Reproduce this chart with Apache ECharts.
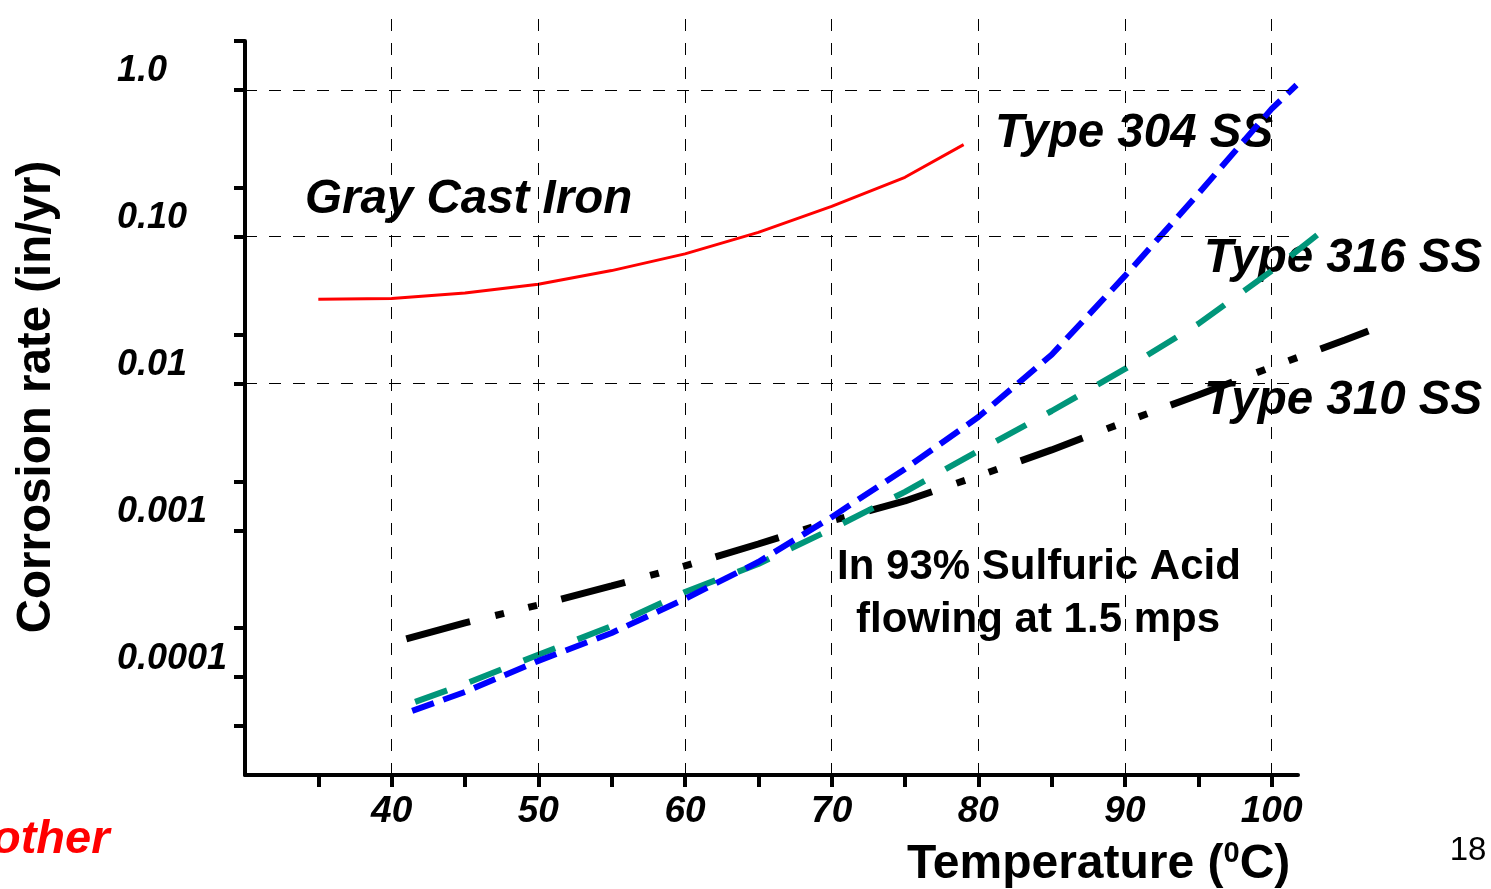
<!DOCTYPE html>
<html>
<head>
<meta charset="utf-8">
<script src="https://cdn.jsdelivr.net/npm/echarts@6/dist/echarts.min.js"></script>
<style>
  html, body { margin: 0; padding: 0; background: #fff; }
  #chart { width: 1491px; height: 889px; }
</style>
</head>
<body>
<div id="chart"></div>
<script>
// temperature (deg C) vs corrosion rate (in/yr)
const castIronTemp = [35, 40, 45, 50, 55, 60, 65, 70, 75, 79];
const castIronRate = [0.0375, 0.0379, 0.0414, 0.0475, 0.0588, 0.0764, 0.107, 0.161, 0.254, 0.424];

const ss304Temp = [41.4, 45, 50, 55, 60, 65, 70, 75, 80, 85, 90, 95, 100, 101.7];
const ss304Rate = [5.89e-5, 7.93e-5, 1.29e-4, 2.0e-4, 3.41e-4, 6.09e-4, 1.23e-3, 2.62e-3, 5.91e-3, 0.0157, 0.0541, 0.196, 0.743, 1.08];

const ss316Temp = [41.6, 45, 50, 55, 60, 65, 70, 75, 80, 85, 90, 95, 100, 103.2];
const ss316Rate = [6.78e-5, 8.99e-5, 1.42e-4, 2.23e-4, 3.80e-4, 5.90e-4, 1.02e-3, 1.83e-3, 3.48e-3, 6.5e-3, 0.01257, 0.0255, 0.0585, 0.1045];

const ss310Temp = [41, 45, 50, 55, 60, 65, 70, 75, 80, 85, 90, 95, 100, 105, 106.6];
const ss310Rate = [1.82e-4, 2.34e-4, 3.10e-4, 4.18e-4, 5.72e-4, 8.07e-4, 1.16e-3, 1.585e-3, 2.35e-3, 3.53e-3, 5.47e-3, 8.36e-3, 0.01297, 0.0198, 0.0228];

// axes
const xTicks = [35, 40, 45, 50, 55, 60, 65, 70, 75, 80, 85, 90, 95, 100];
const xLabels = [40, 50, 60, 70, 80, 90, 100];
const yMajor = [1, 0.1, 0.01, 0.001, 0.0001];
const yMajorLabels = ['1.0', '0.10', '0.01', '0.001', '0.0001'];
const yTicks = [2.154, 1, 0.2154, 0.1, 0.02154, 0.01, 0.002154, 0.001, 0.0002154, 0.0001, 0.0000464];
const yMin = Math.pow(10, -14 / 3);
const yMax = Math.pow(10, 1 / 3);
const xMin = 30;
const xMax = 101.8;
const xMaxWide = 108; // the steel curves run past the end of the drawn axis

const FONT = '"Liberation Sans", Arial, Helvetica, sans-serif';

const pairs = (xs, ys) => xs.map((x, i) => [x, ys[i]]);

const PLOT_LEFT = 245, PLOT_TOP = 41, PLOT_W = 1053, PLOT_H = 734;
const pxPerDeg = PLOT_W / (xMax - xMin);

const gridDash = { color: '#000', width: 1, type: [12, 12] };

function label(text, x, y, font, align, opts) {
  return Object.assign({
    type: 'text',
    x: x,
    y: y,
    style: {
      text: text,
      font: font,
      fill: '#000',
      align: align, textAlign: align,
      verticalAlign: 'middle', textVerticalAlign: 'middle'
    }
  }, opts || {});
}

const chart = echarts.init(document.getElementById('chart'));

chart.setOption({
  animation: false,
  backgroundColor: '#fff',
  grid: [
    { left: PLOT_LEFT, top: PLOT_TOP, width: PLOT_W, height: PLOT_H },
    { left: PLOT_LEFT, top: 8, width: PLOT_W, height: PLOT_TOP + PLOT_H - 8 },
    { left: PLOT_LEFT, top: PLOT_TOP, width: pxPerDeg * (xMaxWide - xMin), height: PLOT_H }
  ],
  xAxis: [
    {
      gridIndex: 0,
      type: 'value',
      min: xMin,
      max: xMax,
      axisLine: { show: true, onZero: false, lineStyle: { color: '#000', width: 4 } },
      axisTick: { show: true, customValues: xTicks, length: 12, lineStyle: { color: '#000', width: 4 } },
      axisLabel: {
        customValues: xLabels,
        margin: 18,
        color: '#000',
        fontFamily: FONT,
        fontSize: 37,
        fontWeight: 'bold',
        fontStyle: 'italic'
      },
      splitLine: { show: false }
    },
    { gridIndex: 1, type: 'value', min: xMin, max: xMax, show: false },
    { gridIndex: 2, type: 'value', min: xMin, max: xMaxWide, show: false }
  ],
  yAxis: [
    {
      gridIndex: 0,
      type: 'log',
      min: yMin,
      max: yMax,
      axisLine: { show: true, onZero: false, lineStyle: { color: '#000', width: 4 } },
      axisTick: { show: true, customValues: yTicks, length: 11, lineStyle: { color: '#000', width: 4 } },
      axisLabel: {
        customValues: yMajor,
        formatter: v => {
          const i = yMajor.findIndex(m => Math.abs(Math.log10(m / v)) < 0.01);
          return i < 0 ? '' : yMajorLabels[i];
        },
        align: 'left',
        verticalAlign: 'bottom',
        lineHeight: 37,
        margin: 128,
        color: '#000',
        fontFamily: FONT,
        fontSize: 36,
        fontWeight: 'bold',
        fontStyle: 'italic'
      },
      splitLine: { show: false }
    },
    { gridIndex: 1, type: 'value', min: 0, max: 1, show: false },
    { gridIndex: 2, type: 'log', min: yMin, max: yMax, show: false }
  ],
  graphic: [
    label('Gray Cast Iron', 305, 200, 'italic bold 47.5px ' + FONT, 'left'),
    label('Type 304 SS', 995, 134, 'italic bold 47.5px ' + FONT, 'left'),
    label('Type 316 SS', 1204, 259, 'italic bold 47.5px ' + FONT, 'left'),
    label('Type 310 SS', 1204, 401, 'italic bold 47.5px ' + FONT, 'left'),
    label('In 93% Sulfuric Acid', 1039, 567, 'bold 42px ' + FONT, 'center'),
    label('flowing at 1.5 mps', 1038, 620, 'bold 42px ' + FONT, 'center'),
    label('Corrosion rate (in/yr)', 37, 397, 'bold 47.5px ' + FONT, 'center', { rotation: Math.PI / 2 }),
    label('18', 1468, 851, '33px ' + FONT, 'center'),
    {
      type: 'text',
      x: -8,
      y: 840,
      style: {
        text: 'other',
        font: 'italic bold 47px ' + FONT,
        fill: '#ff0000',
        align: 'left', textAlign: 'left',
        verticalAlign: 'middle', textVerticalAlign: 'middle'
      }
    },
    {
      type: 'text',
      x: 907,
      y: 865,
      style: {
        text: '{a|Temperature (}{s|0}{a|C)}',
        fill: '#000',
        align: 'left', textAlign: 'left',
        verticalAlign: 'middle', textVerticalAlign: 'middle',
        rich: {
          a: { fontFamily: FONT, fontSize: 48, fontWeight: 'bold', lineHeight: 52, fill: '#000', color: '#000' },
          s: { fontFamily: FONT, fontSize: 29, fontWeight: 'bold', lineHeight: 30, verticalAlign: 'top', fill: '#000', color: '#000' }
        }
      }
    }
  ],
  series: [
    {
      // vertical grid lines, reaching above the plot top
      name: 'vgrid',
      type: 'line',
      xAxisIndex: 1,
      yAxisIndex: 1,
      data: [],
      markLine: {
        silent: true,
        symbol: 'none',
        label: { show: false },
        lineStyle: gridDash,
        data: xLabels.map(v => ({ xAxis: v }))
      }
    },
    {
      // horizontal grid lines at each decade
      name: 'hgrid',
      type: 'line',
      xAxisIndex: 0,
      yAxisIndex: 0,
      data: [],
      markLine: {
        silent: true,
        symbol: 'none',
        label: { show: false },
        lineStyle: gridDash,
        data: yMajor.map(v => ({ yAxis: v }))
      }
    },
    {
      name: 'Gray Cast Iron',
      type: 'line',
      xAxisIndex: 2,
      yAxisIndex: 2,
      data: pairs(castIronTemp, castIronRate),
      symbol: 'none',
      clip: false,
      lineStyle: { color: '#ff0000', width: 3 }
    },
    {
      name: 'Type 310 SS',
      type: 'line',
      xAxisIndex: 2,
      yAxisIndex: 2,
      data: pairs(ss310Temp, ss310Rate),
      symbol: 'none',
      clip: false,
      lineStyle: { color: '#000', width: 7, type: [66, 26, 9, 25, 9, 25], cap: 'butt' }
    },
    {
      name: 'Type 316 SS',
      type: 'line',
      xAxisIndex: 2,
      yAxisIndex: 2,
      data: pairs(ss316Temp, ss316Rate),
      symbol: 'none',
      clip: false,
      lineStyle: { color: '#00967a', width: 6, type: [34, 24], cap: 'butt' }
    },
    {
      name: 'Type 304 SS',
      type: 'line',
      xAxisIndex: 2,
      yAxisIndex: 2,
      data: pairs(ss304Temp, ss304Rate),
      symbol: 'none',
      clip: false,
      lineStyle: { color: '#0000ff', width: 6, type: [23, 10], cap: 'butt' }
    }
  ]
});
</script>
</body>
</html>
